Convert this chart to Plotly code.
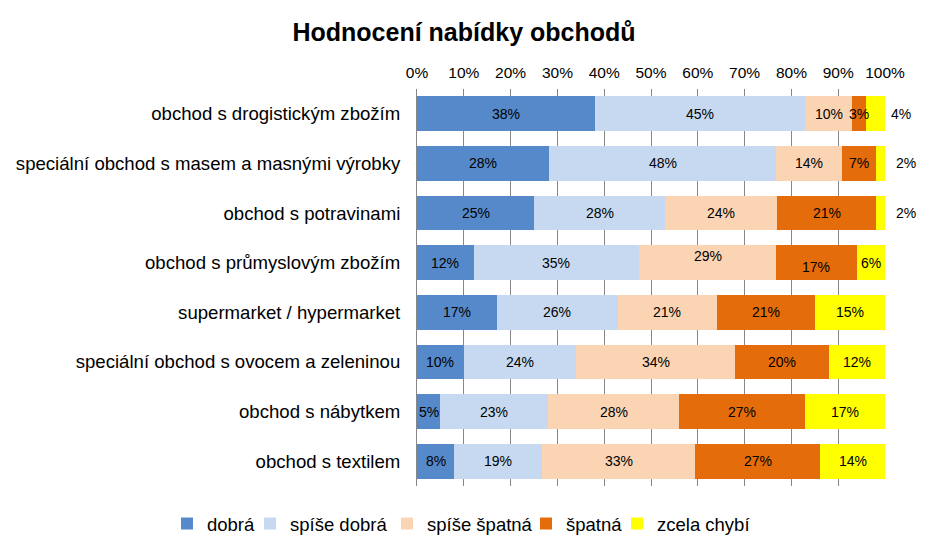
import plotly.graph_objects as go

categories = [
    "obchod s drogistickým zbožím",
    "speciální obchod s masem a masnými výrobky",
    "obchod s potravinami",
    "obchod s průmyslovým zbožím",
    "supermarket / hypermarket",
    "speciální obchod s ovocem a zeleninou",
    "obchod s nábytkem",
    "obchod s textilem",
]
series_names = ["dobrá", "spíše dobrá", "spíše špatná", "špatná", "zcela chybí"]
dobra = [38, 28, 25, 12, 17, 10, 5, 8]
spise_dobra = [45, 48, 28, 35, 26, 24, 23, 19]
spise_spatna = [10, 14, 24, 29, 21, 34, 28, 33]
spatna = [3, 7, 21, 17, 21, 20, 27, 27]
zcela_chybi = [4, 2, 2, 6, 15, 12, 17, 14]
tick_values = [0, 10, 20, 30, 40, 50, 60, 70, 80, 90, 100]

series = [dobra, spise_dobra, spise_spatna, spatna, zcela_chybi]
colors = ["#5689CA", "#C6D9F0", "#FBD4B4", "#E46C0A", "#FFFF00"]
# page x where each legend entry's text starts (one legend box per entry)
legend_text_x = [203, 286, 423, 562, 653]

FONT = "Liberation Sans, Arial, sans-serif"

W, H = 921, 546          # figure size (page has an 8px body margin)
ML, MR, MT, MB = 409, 44, 81, 68
PW, PH = W - ML - MR, H - MT - MB

fig = go.Figure()
legend_ids = ["legend", "legend2", "legend3", "legend4", "legend5"]
for name, vals, col, lid in zip(series_names, series, colors, legend_ids):
    fig.add_trace(go.Bar(
        y=categories, x=vals, name=name, orientation="h",
        marker=dict(color=col, line=dict(width=0)),
        hoverinfo="x+y+name", legend=lid,
    ))

# data labels (centered in the normalized segments)
annotations = []
for i, cat in enumerate(categories):
    total = sum(s[i] for s in series)
    cum = 0.0
    for j, s in enumerate(series):
        v = s[i]
        w = v / total * 100
        ann = dict(
            x=cum + w / 2, y=cat, xref="x", yref="y", text=f"{v}%",
            showarrow=False, xanchor="center",
            font=dict(family=FONT, size=14, color="#000000"),
        )
        # labels moved by hand in the original
        if j == 4 and i in (0, 1, 2):
            ann.update(x=1.0, xref="paper", xanchor="left",
                       xshift=4 if i == 0 else 9)
        if i == 3 and j == 2:
            ann["yshift"] = 7
        if i == 3 and j == 3:
            ann["yshift"] = -4
        annotations.append(ann)
        cum += w

legend_layouts = {}
for lid, tx in zip(legend_ids, legend_text_x):
    left_fig = tx - 36 - 8
    legend_layouts[lid] = dict(
        orientation="h", x=(left_fig - ML) / PW, xref="paper", xanchor="left",
        y=-38 / PH, yref="paper", yanchor="middle",
        font=dict(family=FONT, size=18.5, color="#000000"),
        itemwidth=30, bgcolor="rgba(0,0,0,0)",
    )

fig.update_layout(
    barmode="stack",
    barnorm="percent",
    bargap=0.3,
    width=W, height=H,
    margin=dict(l=ML, r=MR, t=MT, b=MB, autoexpand=False),
    paper_bgcolor="white",
    plot_bgcolor="white",
    font=dict(family=FONT, color="#000000"),
    title=dict(
        text="<b>Hodnocení nabídky obchodů</b>",
        x=456 / W, xref="container", xanchor="center",
        y=1 - 24 / H, yref="container", yanchor="middle",
        font=dict(size=25, color="#000000"),
    ),
    xaxis=dict(
        side="top", range=[0, 100], tickvals=tick_values,
        ticktext=[f"{t}%" for t in tick_values],
        showgrid=True, gridcolor="#878787", gridwidth=1,
        zeroline=False, showline=False, ticks="",
        tickfont=dict(size=15.5), ticklabelstandoff=7,
        fixedrange=True,
    ),
    yaxis=dict(
        categoryorder="array", categoryarray=categories, autorange="reversed",
        showline=True, linecolor="#878787", linewidth=1,
        ticks="", ticklabelstandoff=12, tickfont=dict(size=18.6),
        showgrid=False, fixedrange=True,
    ),
    annotations=annotations,
    showlegend=True,
    **legend_layouts,
)

fig.write_html("out.html")
